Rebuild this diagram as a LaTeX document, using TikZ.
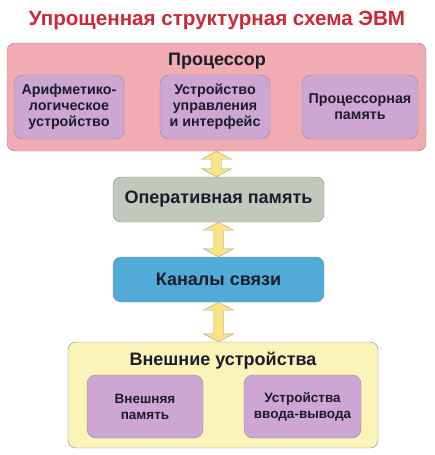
\documentclass[tikz,border=0pt]{standalone}
\usepackage{fontspec}
\setmainfont{Liberation Sans}
\usetikzlibrary{calc, positioning}
\definecolor{titleRed}{RGB}{205,40,55}
\definecolor{procPink}{RGB}{240,172,178}
\definecolor{unitPurple}{RGB}{206,166,212}
\definecolor{ramGray}{RGB}{192,202,188}
\definecolor{busBlue}{RGB}{82,170,216}
\definecolor{extYellow}{RGB}{250,244,186}
\definecolor{arrowYellow}{RGB}{252,228,130}
\definecolor{edgeGray}{RGB}{140,140,140}
\definecolor{inkDark}{RGB}{28,28,42}
\tikzset{
    outerBox/.style={draw=edgeGray, rounded corners=8pt, inner sep=0pt},
    innerBox/.style={draw=edgeGray, fill=unitPurple, rounded corners=9pt, inner sep=0pt, align=center, text=inkDark, font=\bfseries\fontsize{14.3}{16}\selectfont},
    midBox/.style={draw=edgeGray, rounded corners=8pt, inner sep=0pt, minimum width=211pt, minimum height=45pt, text=inkDark, font=\bfseries\fontsize{18}{20}\selectfont},
    boxTitle/.style={text=inkDark, font=\bfseries\fontsize{18}{20}\selectfont},
    busArrow/.style={draw=edgeGray!80!arrowYellow, fill=arrowYellow, line join=miter, thin},
}
\newcommand{\drawBus}[2]{
    \path (#1.south) coordinate (busTop) (#2.north -| #1.south) coordinate (busBot);
    \draw[busArrow] (busTop) -- ($(busTop)+(15,8)$) -- ($(busTop)+(5,8)$) -- ($(busBot)+(5,-8)$)
        -- ($(busBot)+(15,-8)$) -- (busBot) -- ($(busBot)+(-15,-8)$) -- ($(busBot)+(-5,-8)$)
        -- ($(busTop)+(-5,8)$) -- ($(busTop)+(-15,8)$) -- cycle;
}
\begin{document}
\begin{tikzpicture}[x=1pt, y=-1pt]
    \useasboundingbox (0,0) rectangle (434,455);

    \node[text=titleRed, font=\bfseries\fontsize{20.6}{22}\selectfont] (title) at (217,20) {Упрощенная структурная схема ЭВМ};

    % processor
    \node[outerBox, fill=procPink, minimum width=419pt, minimum height=108pt] (cpu) at (216.5,97) {};
    \node[boxTitle] (cpuLabel) at (217,61) {Процессор};
    \node[innerBox, minimum width=110pt, minimum height=64pt] (alu) at (69,107) {Арифметико-\\логическое\\устройство};
    \node[innerBox, minimum width=110pt, minimum height=64pt] (ctrl) at (215,107) {Устройство\\управления\\и интерфейс};
    \node[innerBox, minimum width=116pt, minimum height=64pt] (cache) at (360,107) {Процессорная\\память};

    % memory and bus
    \node[midBox, fill=ramGray] (ram) at (218.5,199.5) {Оперативная память};
    \node[midBox, fill=busBlue] (bus) at (218.5,279.5) {Каналы связи};

    % external devices
    \node[outerBox, fill=extYellow, minimum width=310pt, minimum height=106pt] (ext) at (223,395) {};
    \node[boxTitle] (extLabel) at (223,361) {Внешние устройства};
    \node[innerBox, font=\bfseries\fontsize{13.5}{16}\selectfont, minimum width=116pt, minimum height=63pt] (disk) at (145,406.5) {Внешняя\\память};
    \node[innerBox, font=\bfseries\fontsize{13.5}{16}\selectfont, minimum width=117pt, minimum height=63pt] (io) at (302.5,406.5) {Устройства\\ввода-вывода};

    \drawBus{cpu}{ram}
    \drawBus{ram}{bus}
    \drawBus{bus}{ext}

\end{tikzpicture}
\end{document}
